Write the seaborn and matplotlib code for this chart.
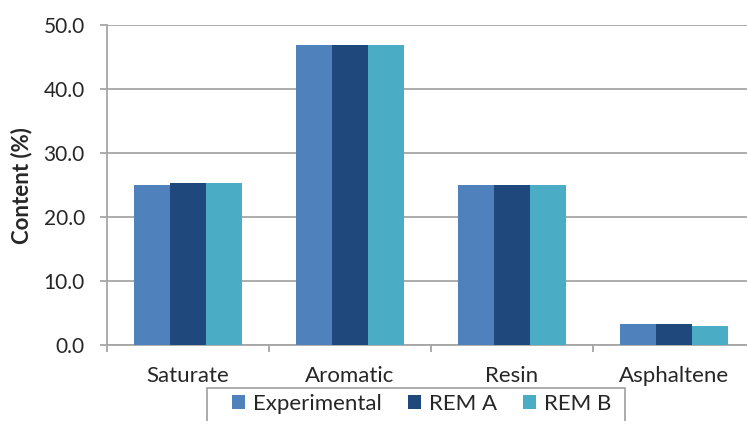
import matplotlib
matplotlib.use("Agg")
import matplotlib.pyplot as plt
import seaborn as sns
import pandas as pd
from matplotlib.patches import Rectangle
from matplotlib.ticker import FixedLocator, FormatStrFormatter

categories = ["Saturate", "Aromatic", "Resin", "Asphaltene"]
experimental = [25.0, 46.9, 25.0, 3.3]
rem_a = [25.3, 46.9, 25.0, 3.3]
rem_b = [25.3, 46.9, 25.0, 3.0]
series = ["Experimental", "REM A", "REM B"]
colors = ["#4F81BD", "#1F497D", "#4BACC6"]

df = pd.DataFrame({
    "Fraction": categories * 3,
    "Series": [s for s in series for _ in categories],
    "Content": experimental + rem_a + rem_b,
})

sns.set_theme(style="white")
plt.rcParams["font.family"] = ["Lato", "DejaVu Sans"]

W, H = 747, 421
FS = 16
FS_Y = 15
TXT = "#262626"
fig = plt.figure(figsize=(W / 100, H / 100), dpi=100)
left, right, top, bottom = 107, 755, 25, 345
ax = fig.add_axes([left / W, 1 - bottom / H, (right - left) / W, (bottom - top) / H])

sns.barplot(data=df, x="Fraction", y="Content", hue="Series", order=categories,
            hue_order=series, palette=colors, width=0.667, saturation=1,
            edgecolor="none", ax=ax, zorder=3)

grid_c = "#A6A6A6"
ax.set_ylim(0, 50)
ax.set_xlim(-0.5, 3.5)
ax.set_yticks([0, 10, 20, 30, 40, 50])
ax.yaxis.set_major_formatter(FormatStrFormatter("%.1f"))
ax.yaxis.grid(True, color=grid_c, linewidth=1.3, zorder=0)
ax.set_axisbelow(True)

for s in ["top", "right"]:
    ax.spines[s].set_visible(False)
for s in ["left", "bottom"]:
    ax.spines[s].set_color(grid_c)
    ax.spines[s].set_linewidth(1.3)

ax.tick_params(axis="y", which="major", length=5, width=1.3, color=grid_c,
               labelsize=FS_Y, labelcolor=TXT, pad=11, left=True)
ax.tick_params(axis="x", which="major", length=0, labelsize=FS,
               labelcolor=TXT, pad=15)
ax.xaxis.set_minor_locator(FixedLocator([-0.5, 0.5, 1.5, 2.5, 3.5]))
ax.tick_params(axis="x", which="minor", length=5, width=1.3, color=grid_c, bottom=True)

ax.set_xlabel("")
ax.set_ylabel("")
fig.text(22 / W, 1 - 186 / H, "Content (%)", rotation=90, ha="center", va="center",
         fontsize=FS, fontweight="bold", color=TXT)

handles, labels = ax.get_legend_handles_labels()
ax.get_legend().remove()
fpx = FS * 100 / 72
leg = fig.legend(handles, labels, loc="center left",
                 bbox_to_anchor=(232 / W, 1 - 404 / H), ncol=3, frameon=False,
                 fontsize=FS, handlelength=13 / fpx, handleheight=13 / fpx,
                 handletextpad=8 / fpx, columnspacing=26 / fpx,
                 borderpad=0, borderaxespad=0)
for t in leg.get_texts():
    t.set_color(TXT)
fig.patches.append(Rectangle((207 / W, 1 - 425 / H), (625 - 207) / W, 37 / H,
                             transform=fig.transFigure, fill=False,
                             edgecolor=grid_c, linewidth=1.3))

fig.savefig("out.png", dpi=100)
